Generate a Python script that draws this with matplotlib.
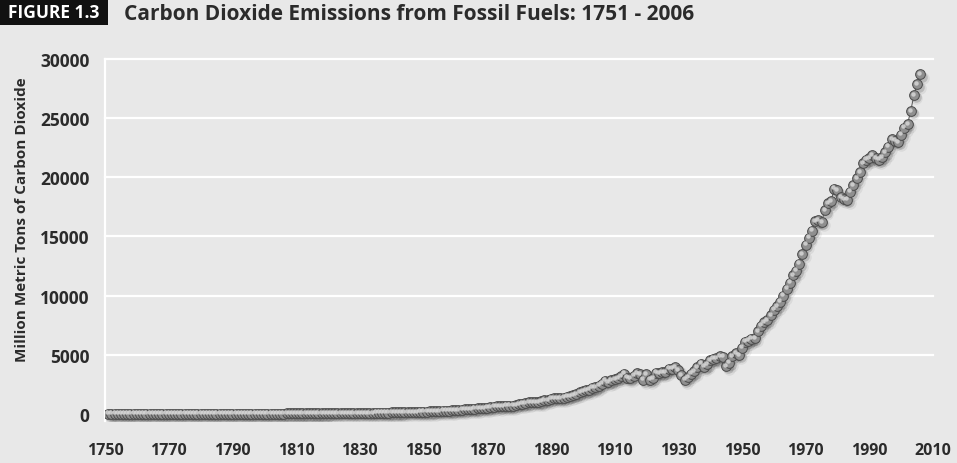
import matplotlib
matplotlib.use("Agg")
import matplotlib.pyplot as plt
import matplotlib.transforms as mtransforms
from matplotlib.patches import Rectangle
import numpy as np

# ---------------- data ----------------
years = list(range(1751, 2007))
emissions = [
    # 1751-1800
    11, 11, 11, 11, 11, 12, 12, 12, 12, 12,
    12, 12, 12, 12, 13, 13, 13, 14, 14, 14,
    14, 15, 15, 15, 16, 16, 16, 17, 17, 17,
    18, 18, 18, 19, 19, 20, 20, 21, 21, 22,
    22, 23, 24, 25, 25, 26, 27, 27, 28, 29,
    # 1801-1850
    29, 30, 31, 32, 33, 33, 34, 36, 37, 38,
    39, 40, 41, 42, 44, 45, 46, 47, 49, 50,
    52, 54, 55, 57, 59, 62, 64, 66, 68, 85,
    82, 85, 86, 90, 96, 103, 107, 114, 118, 120,
    123, 130, 133, 140, 155, 155, 165, 170, 180, 195,
    # 1851-1900
    195, 205, 212, 248, 255, 273, 277, 281, 299, 328,
    342, 349, 374, 403, 428, 439, 468, 486, 511, 529,
    562, 623, 662, 626, 677, 688, 698, 706, 756, 850,
    875, 922, 979, 990, 997, 1012, 1062, 1177, 1177, 1282,
    1339, 1346, 1332, 1379, 1462, 1508, 1584, 1674, 1825, 1922,
    # 1901-1950
    1987, 2038, 2221, 2246, 2387, 2545, 2822, 2700, 2826, 2948,
    3010, 3164, 3395, 3060, 3017, 3244, 3438, 3370, 2902, 3355,
    2891, 3042, 3492, 3467, 3510, 3539, 3823, 3834, 3980, 3700,
    3300, 2900, 3100, 3400, 3600, 3950, 4250, 4000, 4180, 4550,
    4670, 4700, 4870, 4840, 4060, 4330, 4870, 5140, 4970, 5600,
    # 1951-2000
    6100, 6200, 6350, 6430, 7000, 7450, 7750, 7950, 8350, 8800,
    9100, 9500, 10000, 10600, 11100, 11700, 12100, 12700, 13500, 14300,
    14900, 15500, 16300, 16350, 16200, 17200, 17800, 18000, 19050, 18900,
    18300, 18150, 18100, 18780, 19350, 19900, 20450, 21200, 21500, 21600,
    21900, 21600, 21500, 21700, 22100, 22600, 23200, 23100, 23000, 23600,
    # 2001-2006
    24200, 24500, 25600, 26950, 27850, 28700,
]
yticks = [0, 5000, 10000, 15000, 20000, 25000, 30000]
xticks = [1750, 1770, 1790, 1810, 1830, 1850, 1870, 1890, 1910, 1930, 1950, 1970, 1990, 2010]

title_tag = "FIGURE 1.3"
title_text = "Carbon Dioxide Emissions from Fossil Fuels: 1751 - 2006"
ylabel_text = "Million Metric Tons of Carbon Dioxide"

# ---------------- style ----------------
BG = "#e8e8e8"
TXT = "#2b2b2b"
FONT = ["Open Sans", "DejaVu Sans"]
plt.rcParams["font.family"] = FONT

W, H = 957, 464
fig = plt.figure(figsize=(W / 100, H / 100), dpi=100, facecolor=BG)

left_px, right_px = 105, 933
top_px, bottom_px = 60, 422
ax = fig.add_axes([left_px / W, 1 - bottom_px / H,
                   (right_px - left_px) / W, (bottom_px - top_px) / H])
ax.set_facecolor(BG)
ax.set_xlim(1750, 2010)
ax.set_ylim(-600, 30000)

for s in ["top", "right", "bottom"]:
    ax.spines[s].set_visible(False)
ax.spines["left"].set_color("white")
ax.spines["left"].set_linewidth(1.6)

ax.set_yticks(yticks)
ax.set_xticks(xticks)
ax.set_yticklabels([str(v) for v in yticks])
ax.set_xticklabels([str(v) for v in xticks])
ax.tick_params(axis="both", length=0, labelcolor=TXT)
ax.tick_params(axis="y", pad=11, labelsize=12.5)
ax.tick_params(axis="x", pad=15, labelsize=11.5)
for lab in ax.get_xticklabels() + ax.get_yticklabels():
    lab.set_fontweight("bold")

for v in yticks:
    if v == 0:
        continue
    ax.axhline(v, color="white", lw=1.6, zorder=1, clip_on=False)

ax.set_ylabel(ylabel_text, fontsize=11, fontweight="bold", color=TXT)
ax.yaxis.set_label_coords(-0.092, 0.56)

# markers: shadow, connecting line, ball, highlight
shadow1 = mtransforms.offset_copy(ax.transData, fig=fig, x=1.8, y=-2.2, units="dots")
shadow2 = mtransforms.offset_copy(ax.transData, fig=fig, x=2.6, y=-3.2, units="dots")
hl = mtransforms.offset_copy(ax.transData, fig=fig, x=-1.0, y=1.3, units="dots")

ax.plot(years, emissions, "o", ms=9, color="black", alpha=0.06, mew=0,
        transform=shadow2, zorder=2)
ax.plot(years, emissions, "o", ms=7.6, color="black", alpha=0.15, mew=0,
        transform=shadow1, zorder=2)
ax.plot(years, emissions, "-", lw=0.7, color="#555555", zorder=3)
ax.plot(years, emissions, "o", ms=7.0, mfc="#8f8f8f", mec="#4a4a4a", mew=0.7, zorder=4)
ax.plot(years, emissions, "o", ms=3.2, color="#d6d6d6", alpha=0.85, mew=0,
        transform=hl, zorder=5)

# title
fig.patches.append(Rectangle((0, 1 - 26 / H), 108 / W, 26 / H, transform=fig.transFigure,
                             facecolor="#111111", edgecolor="none", zorder=0))
fig.text(54 / W, 1 - 13.5 / H, title_tag, color="white", fontsize=12.5, fontweight="bold",
         ha="center", va="center")
fig.text(124 / W, 1 - 14.5 / H, title_text, color=TXT, fontsize=15, fontweight="bold",
         ha="left", va="center")

fig.savefig("out.png", dpi=100, facecolor=BG)
